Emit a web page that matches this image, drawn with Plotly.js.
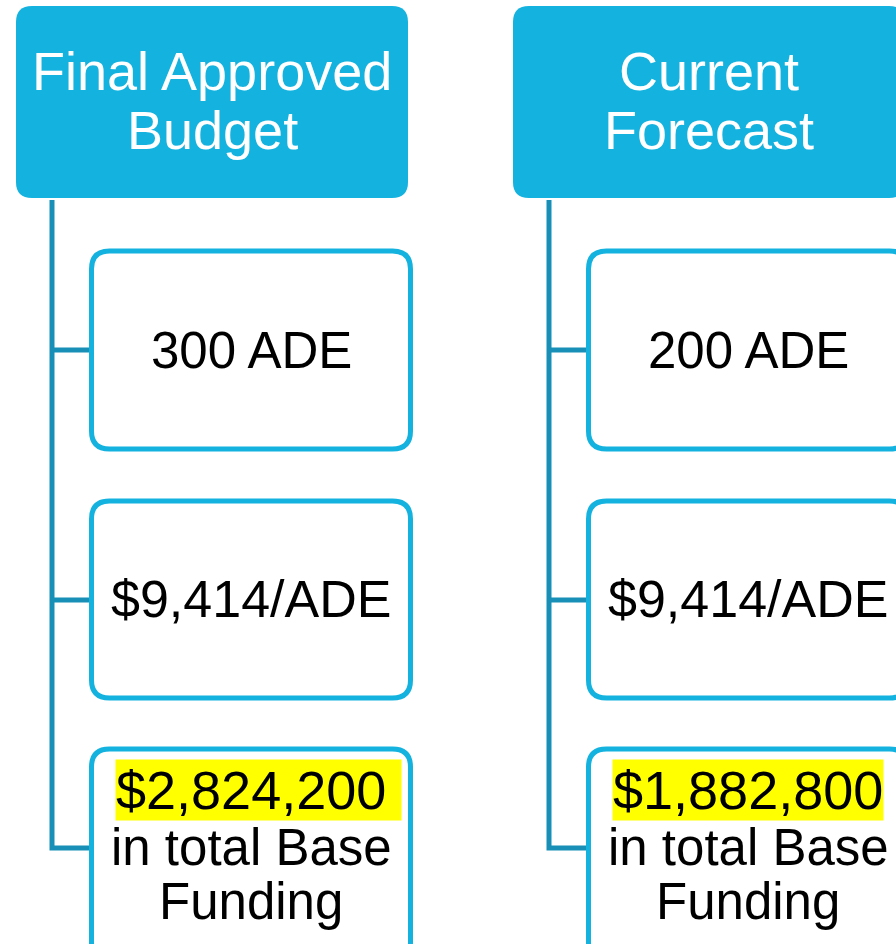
<!DOCTYPE html>
<html>
<head>
<meta charset="utf-8">
<script src="https://cdn.plot.ly/plotly-3.0.1.min.js"></script>
<style>html,body{margin:0;padding:0;background:#fff}#chart{width:896px;height:944px}</style>
</head>
<body>
<div id="chart"></div>
<script>
// ---- data ----
const headerLines = [["Final Approved", "Budget"], ["Current", "Forecast"]];
const adeCounts = [300, 200];
const perAde = [9414, 9414];
const totalFunding = [2824200, 1882800];
const totalLines = ["in total Base", "Funding"];

// ---- layout constants ----
const colX = [16, 513];          // header left edge per column
const headerW = 392, headerTop = 6, headerBot = 198;
const connOffset = 36;           // connector x from header left
const boxOffset = 75.5;          // child box left (stroke centre) from header left
const boxW = 319;
const boxRows = [[251, 449], [501, 698], [749, 960]];
const stubY = [350, 600, 848];
const FILL = "#13b2df", CONN = "#178fb6";
const FONT = "Liberation Sans, Arial, sans-serif";

function rr(x0, y0, x1, y1, r) {
  return `M ${x0+r},${y0} L ${x1-r},${y0} Q ${x1},${y0} ${x1},${y0+r} L ${x1},${y1-r} Q ${x1},${y1} ${x1-r},${y1} ` +
         `L ${x0+r},${y1} Q ${x0},${y1} ${x0},${y1-r} L ${x0},${y0+r} Q ${x0},${y0} ${x0+r},${y0} Z`;
}
const fmt = n => n.toLocaleString("en-US");

const shapes = [], annotations = [];
colX.forEach((x0, i) => {
  // header
  shapes.push({type: "path", xref: "x", yref: "y", path: rr(x0, headerTop, x0 + headerW, headerBot, 16),
               fillcolor: FILL, line: {width: 0}});
  // connector
  const cx = x0 + connOffset, bx = x0 + boxOffset;
  shapes.push({type: "path", xref: "x", yref: "y",
               path: `M ${cx},${headerBot + 2} L ${cx},${stubY[2]} L ${bx},${stubY[2]}`,
               line: {color: CONN, width: 5}});
  stubY.slice(0, 2).forEach(sy => shapes.push({type: "line", xref: "x", yref: "y",
               x0: cx, x1: bx, y0: sy, y1: sy, line: {color: CONN, width: 5}}));
  // child boxes
  boxRows.forEach(([t, b]) => shapes.push({type: "path", xref: "x", yref: "y",
               path: rr(bx, t, bx + boxW, b, 18), fillcolor: "#ffffff", line: {color: FILL, width: 5}}));

  const hc = x0 + headerW / 2, bc = bx + boxW / 2;
  headerLines[i].forEach((t, k) => annotations.push({x: hc, y: 71 + k * 59, text: t, showarrow: false,
               xanchor: "center", yanchor: "middle", font: {family: FONT, size: 54, color: "#ffffff"}}));
  annotations.push({x: bc, y: 350, text: `${adeCounts[i]} ADE`, showarrow: false,
               font: {family: FONT, size: 51, color: "#000"}});
  annotations.push({x: bc, y: 599, text: `$${fmt(perAde[i])}/ADE`, showarrow: false,
               font: {family: FONT, size: 52, color: "#000"}});
  const pad = i === 0;   // trailing highlight only where it fits on the page
  annotations.push({x: bc, y: 790, text: `$${fmt(totalFunding[i])}` + (pad ? "\u00a0" : ""),
               showarrow: false, xshift: pad ? 7 : 0,
               bgcolor: "#ffff00", borderpad: 0,
               font: {family: FONT, size: 54, color: "#000"}});
  totalLines.forEach((t, k) => annotations.push({x: bc, y: 847 + k * 54, text: t, showarrow: false,
               font: {family: FONT, size: 51, color: "#000"}}));
});

const layout = {
  width: 896, height: 944, margin: {l: 0, r: 0, t: 0, b: 0},
  paper_bgcolor: "#ffffff", plot_bgcolor: "#ffffff", showlegend: false,
  xaxis: {range: [0, 896], visible: false, fixedrange: true},
  yaxis: {range: [944, 0], visible: false, fixedrange: true},
  shapes, annotations
};
Plotly.newPlot("chart", [], layout, {staticPlot: true, displayModeBar: false});
</script>
</body>
</html>
